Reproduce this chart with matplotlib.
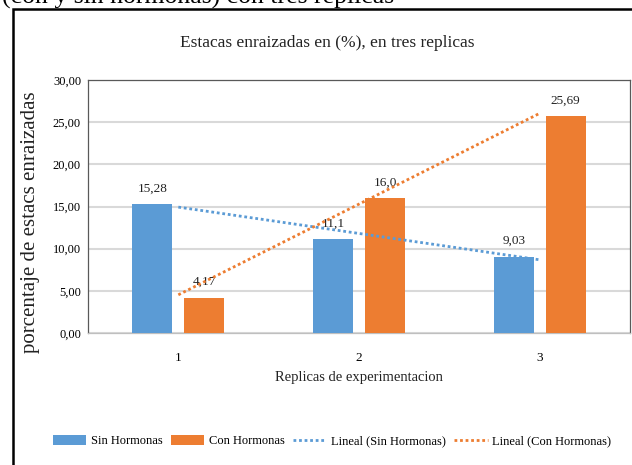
import numpy as np
import matplotlib.pyplot as plt
from matplotlib.patches import Rectangle

plt.rcParams['font.family'] = ['Liberation Serif', 'DejaVu Serif']

# data
replicas = ['1', '2', '3']
sin_hormonas = [15.28, 11.1, 9.03]
con_hormonas = [4.17, 16.0, 25.69]
sin_labels = ['15,28', '11,1', '9,03']
con_labels = ['4,17', '16,0', '25,69']
yticks = [0, 5, 10, 15, 20, 25, 30]
ytick_labels = ['0,00', '5,00', '10,00', '15,00', '20,00', '25,00', '30,00']

blue = '#5B9BD5'
orange = '#ED7D31'

fig = plt.figure(figsize=(6.32, 4.65), dpi=100)
W, H = 632, 465
ax = fig.add_axes([88 / W, 1 - 333 / H, (630 - 88) / W, (333 - 80) / H])

x = np.arange(len(replicas))
bw = 0.222
off = 0.144
b1 = ax.bar(x - off, sin_hormonas, bw, color=blue, label='Sin Hormonas', zorder=3)
b2 = ax.bar(x + off, con_hormonas, bw, color=orange, label='Con Hormonas', zorder=3)

# data labels
for rect, lab in zip(b1, sin_labels):
    ax.annotate(lab, (rect.get_x() + rect.get_width() / 2, rect.get_height()),
                xytext=(0, 7), textcoords='offset points', ha='center', va='bottom',
                fontsize=9.5, color='#222222')
for rect, lab in zip(b2, con_labels):
    ax.annotate(lab, (rect.get_x() + rect.get_width() / 2, rect.get_height()),
                xytext=(0, 7), textcoords='offset points', ha='center', va='bottom',
                fontsize=9.5, color='#222222')

# linear trend lines
xs = np.arange(1, len(replicas) + 1)
p_sin = np.polyfit(xs, sin_hormonas, 1)
p_con = np.polyfit(xs, con_hormonas, 1)
l1, = ax.plot(x, np.polyval(p_sin, xs), color=blue, lw=2, ls=(0, (1, 1)),
              label='Lineal (Sin Hormonas)', zorder=4)
l2, = ax.plot(x, np.polyval(p_con, xs), color=orange, lw=2, ls=(0, (1, 1)),
              label='Lineal (Con Hormonas)', zorder=4)

ax.set_xlim(-0.5, 2.5)
ax.set_ylim(0, 30)
ax.set_xticks(x)
ax.set_xticklabels(replicas, fontsize=9.5)
ax.set_yticks(yticks)
ax.set_yticklabels(ytick_labels, fontsize=9)
ax.tick_params(length=0, pad=5)
ax.tick_params(axis='x', pad=14)
ax.yaxis.grid(True, color='#d9d9d9', lw=1.5, zorder=0)
for s in ax.spines.values():
    s.set_color('#595959')
    s.set_linewidth(0.9)
ax.spines['bottom'].set_color('#bfbfbf')

fig.text(327 / W, 1 - 43 / H, 'Estacas enraizadas en (%), en tres replicas',
         ha='center', va='center', fontsize=12.5, color='#222222')
fig.text(359 / W, 1 - 377 / H, 'Replicas de experimentacion',
         ha='center', va='center', fontsize=10.5, color='#222222')
fig.text(31 / W, 1 - 222 / H, 'porcentaje de estacs enraizadas',
         ha='center', va='center', rotation=90, fontsize=15, color='#222222')

# cut-off heading text above the chart box
fig.text(2 / W, 1 - 4 / H, '(con y sin hormonas) con tres replicas',
         ha='left', va='baseline', fontsize=18.5, color='black')

# outer chart frame
fig.add_artist(Rectangle((13 / W, -0.1), 1.0, 1 - 9 / H + 0.1,
                         transform=fig.transFigure, fill=False,
                         edgecolor='black', lw=1.8))

fig.legend(handles=[b1, b2, l1, l2], loc='center',
           bbox_to_anchor=(332 / W, 1 - 441 / H), ncol=4,
           frameon=False, fontsize=9, handlelength=2.7, handletextpad=0.4,
           columnspacing=0.6, handleheight=0.8)

fig.savefig('out.png', dpi=100)
